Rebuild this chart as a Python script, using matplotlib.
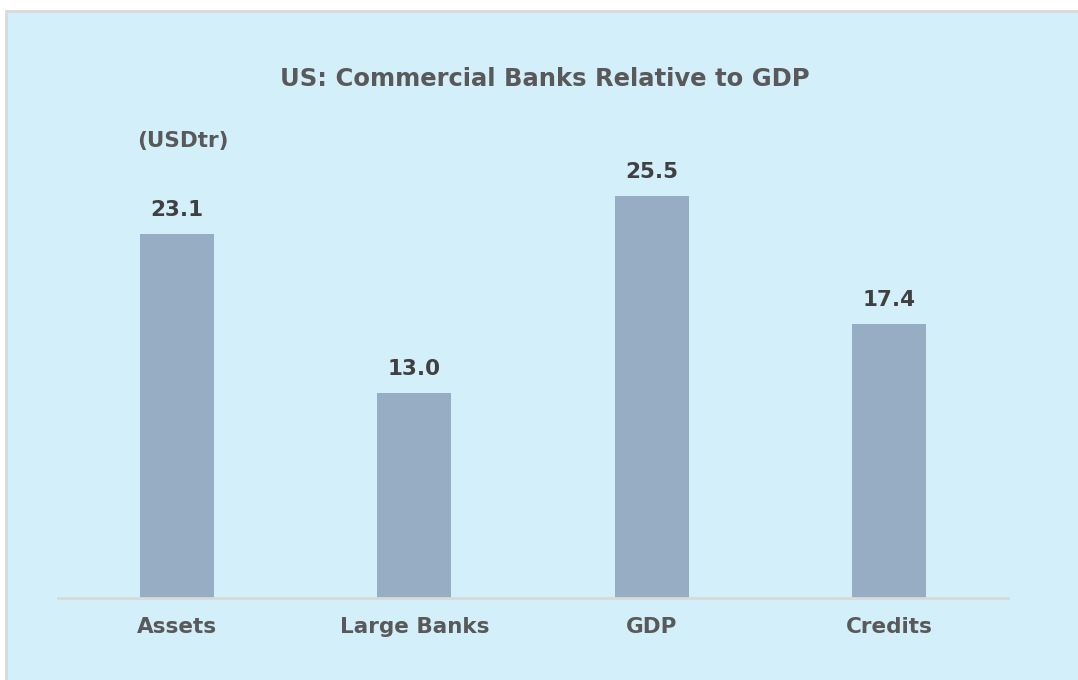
import matplotlib.pyplot as plt
from matplotlib.patches import Rectangle

categories = ["Assets", "Large Banks", "GDP", "Credits"]
values = [23.1, 13.0, 25.5, 17.4]

bg = "#D3EFFA"
bar_color = "#97ADC4"
label_color = "#595959"
value_color = "#404040"

fig = plt.figure(figsize=(10.78, 6.8), dpi=100)
fig.patch.set_facecolor("white")
# panel with a thin grey frame, running off the right and bottom edges
fig.patches.append(Rectangle((6 / 1078, -10 / 680), 1090 / 1078, 679 / 680,
                             transform=fig.transFigure, facecolor=bg,
                             edgecolor="#D9D9D9", linewidth=2, zorder=-10))

ax = fig.add_axes([58 / 1078, 82 / 680, 950 / 1078, 448 / 680])
ax.set_facecolor("none")
x = range(len(categories))
bars = ax.bar(x, values, width=0.31, color=bar_color, zorder=2)
ax.set_xlim(-0.5, len(categories) - 0.5)
ax.set_ylim(0, 28.4)

for b, v in zip(bars, values):
    ax.annotate(f"{v:.1f}", (b.get_x() + b.get_width() / 2, v),
                xytext=(0, 10), textcoords="offset points", ha="center", va="bottom",
                fontsize=15.5, fontweight="bold", color=value_color)

for s in ["top", "right", "left"]:
    ax.spines[s].set_visible(False)
ax.spines["bottom"].set_color("#D9D9D9")
ax.spines["bottom"].set_linewidth(2)
ax.set_yticks([])
ax.set_xticks(list(x))
ax.set_xticklabels(categories, fontsize=15.5, fontweight="bold", color=label_color)
ax.tick_params(axis="x", length=0, pad=14)

fig.text(545 / 1078, 1 - 79 / 680, "US: Commercial Banks Relative to GDP",
         ha="center", va="center", fontsize=17.5, fontweight="bold", color=label_color)
fig.text(137 / 1078, 1 - 141 / 680, "(USDtr)", ha="left", va="center",
         fontsize=15.5, fontweight="bold", color=label_color)

fig.savefig("out.png", dpi=100, facecolor=fig.get_facecolor())
